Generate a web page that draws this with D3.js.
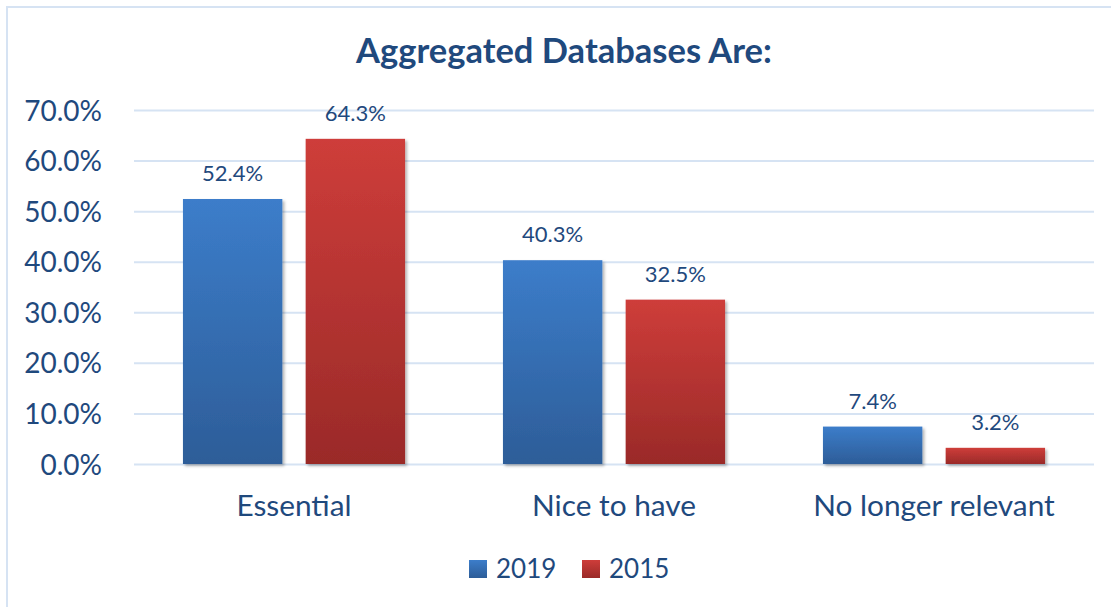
<!DOCTYPE html>
<html>
<head>
<meta charset="utf-8">
<script src="https://d3js.org/d3.v7.min.js"></script>
<style>
  html, body { margin: 0; padding: 0; background: #fff; }
  svg { display: block; }
  text { font-family: Lato, "Noto Sans", sans-serif; fill: #1F497D; }
</style>
</head>
<body>
<svg id="chart" width="1111" height="607"></svg>
<script>
const title = "Aggregated Databases Are:";
const categories = ["Essential", "Nice to have", "No longer relevant"];
const seriesNames = ["2019", "2015"];
const values2019 = [0.524, 0.403, 0.074];
const values2015 = [0.643, 0.325, 0.032];
const yTicks = [0, 0.1, 0.2, 0.3, 0.4, 0.5, 0.6, 0.7];

const seriesValues = [values2019, values2015];
const data = categories.map((c, i) => ({
  category: c,
  values: seriesNames.map((s, j) => ({ series: s, value: seriesValues[j][i] }))
}));

const W = 1111, H = 607;
const margin = { left: 134, right: 17, top: 110, bottom: 143 };
const svg = d3.select("#chart");

const defs = svg.append("defs");
const grads = [
  { id: "g2019", top: "#3C7DCA", bottom: "#2D5D98" },
  { id: "g2015", top: "#CE3D3A", bottom: "#9A2A28" }
];
grads.forEach(g => {
  const lg = defs.append("linearGradient").attr("id", g.id)
    .attr("x1", 0).attr("y1", 0).attr("x2", 0).attr("y2", 1);
  lg.append("stop").attr("offset", "0%").attr("stop-color", g.top);
  lg.append("stop").attr("offset", "100%").attr("stop-color", g.bottom);
});
const f = defs.append("filter").attr("id", "shadow")
  .attr("x", "-10%").attr("y", "-10%").attr("width", "130%").attr("height", "130%");
f.append("feDropShadow").attr("dx", 2).attr("dy", 2).attr("stdDeviation", 1.5)
  .attr("flood-color", "#000").attr("flood-opacity", 0.3);

// outer border (left & top visible)
svg.append("rect").attr("x", 7).attr("y", 7).attr("width", W + 20).attr("height", H + 20)
  .attr("fill", "none").attr("stroke", "#D6E3F3").attr("stroke-width", 2);

const x0 = d3.scaleBand().domain(categories)
  .range([margin.left, W - margin.right]).paddingInner(0.306).paddingOuter(0.153);
const x1 = d3.scaleBand().domain(seriesNames)
  .range([0, x0.bandwidth()]).paddingInner(0.19);
const y = d3.scaleLinear().domain([0, 0.7]).range([H - margin.bottom, margin.top]);

// gridlines
const yAxis = d3.axisLeft(y).tickValues(yTicks).tickFormat(d3.format(".1%"))
  .tickSize(-(W - margin.right - margin.left)).tickPadding(32);
const gy = svg.append("g").attr("transform", `translate(${margin.left},0)`).call(yAxis);
gy.select(".domain").remove();
gy.selectAll(".tick line").attr("stroke", "#D6E3F3").attr("stroke-width", 2);
gy.selectAll(".tick text").attr("font-size", 28).attr("dy", "0.36em").style("fill", "#1F497D");

// bars
const groups = svg.append("g").selectAll("g").data(data).join("g")
  .attr("transform", d => `translate(${x0(d.category)},0)`);
groups.selectAll("rect").data(d => d.values).join("rect")
  .attr("x", d => x1(d.series))
  .attr("y", d => y(d.value))
  .attr("width", x1.bandwidth())
  .attr("height", d => y(0) - y(d.value))
  .attr("fill", d => `url(#g${d.series})`)
  .attr("filter", "url(#shadow)");
groups.selectAll("text").data(d => d.values).join("text")
  .attr("x", d => x1(d.series) + x1.bandwidth() / 2)
  .attr("y", d => y(d.value) - 18)
  .attr("text-anchor", "middle")
  .attr("font-size", 22)
  .text(d => d3.format(".1%")(d.value));

// x axis labels
const xAxis = d3.axisBottom(x0).tickSize(0).tickPadding(31);
const gx = svg.append("g").attr("transform", `translate(0,${y(0)})`).call(xAxis);
gx.select(".domain").remove();
gx.selectAll(".tick text").attr("font-size", 29.8).attr("dy", "0.71em").style("fill", "#1F497D")
  .attr("font-family", "Lato, 'Noto Sans', sans-serif");

// title
svg.append("text").attr("x", 564).attr("y", 63).attr("text-anchor", "middle")
  .attr("font-size", 34.5).attr("font-weight", "bold").text(title);

// legend
const legend = svg.append("g").attr("transform", "translate(469,560)");
const li = legend.selectAll("g").data(seriesNames).join("g")
  .attr("transform", (d, i) => `translate(${i * 113},0)`);
li.append("rect").attr("width", 18).attr("height", 18).attr("fill", d => `url(#g${d})`);
li.append("text").attr("x", 27).attr("y", 18).attr("font-size", 26).text(d => d);
</script>
</body>
</html>
